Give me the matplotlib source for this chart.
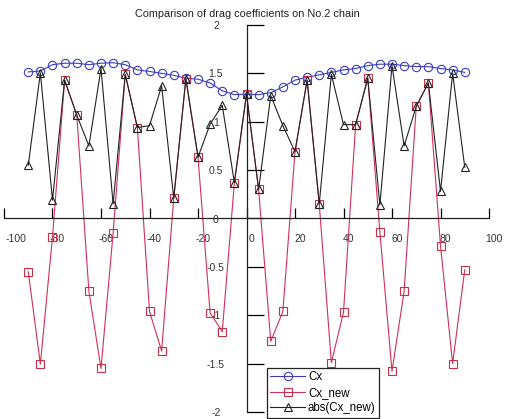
import numpy as np
import matplotlib.pyplot as plt
from matplotlib.transforms import ScaledTranslation

plt.rcParams['font.family'] = ['Liberation Sans', 'DejaVu Sans']

# angle (deg) and drag coefficients
angle = list(range(-90, 95, 5))

cx = [1.515, 1.525, 1.59, 1.605, 1.605, 1.59, 1.605, 1.61, 1.59, 1.536,
      1.52, 1.50, 1.48, 1.45, 1.44, 1.40, 1.32, 1.28, 1.285,
      1.28, 1.30, 1.36, 1.43, 1.46, 1.485, 1.51, 1.536, 1.55, 1.58,
      1.595, 1.595, 1.58, 1.57, 1.57, 1.55, 1.536, 1.51]

cx_new = [-0.55, -1.505, -0.19, 1.43, 1.07, -0.75, -1.55, -0.15, 1.49, 0.94,
          -0.96, -1.37, 0.21, 1.445, 0.635, -0.975, -1.17, 0.37, 1.285,
          0.30, -1.27, -0.96, 0.69, 1.43, 0.15, -1.49, -0.97, 0.97, 1.45,
          -0.14, -1.58, -0.75, 1.16, 1.40, -0.28, -1.50, -0.53]

abs_cx_new = [abs(v) for v in cx_new]

x_ticks = [-100, -80, -60, -40, -20, 0, 20, 40, 60, 80, 100]
y_ticks = [-2, -1.5, -1, -0.5, 0, 0.5, 1, 1.5, 2]
y_labels = ['-2', '-1.5', '-1', '-0.5', '0', '0.5', '1', '1.5', '2']

fig = plt.figure(figsize=(5.07, 4.19), dpi=100)
ax = fig.add_axes([4 / 507, 7 / 419, 485 / 507, 387 / 419])

ax.plot(angle, cx, color='#3c3cc0', lw=0.8, marker='o', ms=6,
        mfc='none', mec='#3c3cc0', mew=0.8, label='Cx')
ax.plot(angle, cx_new, color='#d0305a', lw=0.8, marker='s', ms=5.5,
        mfc='none', mec='#c83048', mew=0.8, label='Cx_new')
ax.plot(angle, abs_cx_new, color='#222222', lw=0.8, marker='^', ms=5.5,
        mfc='none', mec='#222222', mew=0.8, label='abs(Cx_new)')

ax.set_xlim(-100, 100)
ax.set_ylim(-2, 2)

# axes crossing at the origin
ax.spines['left'].set_position(('data', 0))
ax.spines['bottom'].set_position(('data', 0))
ax.spines['right'].set_visible(False)
ax.spines['top'].set_visible(False)
for s in ['left', 'bottom']:
    ax.spines[s].set_linewidth(0.9)
    ax.spines[s].set_color('#222222')

ax.set_xticks(x_ticks)
ax.set_xticklabels([str(t) for t in x_ticks])
ax.set_yticks(y_ticks)
ax.set_yticklabels(y_labels)

ax.tick_params(axis='y', direction='in', length=12, width=0.9, pad=22,
               labelsize=7.5, labelcolor='#333333')
ax.tick_params(axis='x', direction='in', length=7, width=0.9, pad=11,
               labelsize=7.5, labelcolor='#333333')

for lab in ax.get_yticklabels():
    lab.set_horizontalalignment('center')

for lab, t in zip(ax.get_xticklabels(), x_ticks):
    dx = 12 if t == -100 else 5
    lab.set_transform(lab.get_transform() +
                      ScaledTranslation(dx / 100, 0, fig.dpi_scale_trans))

fig.text(247 / 507, 1 - 14 / 419, 'Comparison of drag coefficients on No.2 chain',
         ha='center', va='center', fontsize=7.8, color='#222222')

leg = ax.legend(loc='upper left', bbox_to_anchor=(267 / 507, 1 - 368 / 419),
                bbox_transform=fig.transFigure, fontsize=8.3, frameon=True,
                fancybox=False, edgecolor='#222222', framealpha=1,
                handlelength=3.0, handletextpad=0.25, labelspacing=0.3,
                borderpad=0.3, borderaxespad=0)
leg.get_frame().set_linewidth(0.9)

fig.savefig('out.png', dpi=100)
